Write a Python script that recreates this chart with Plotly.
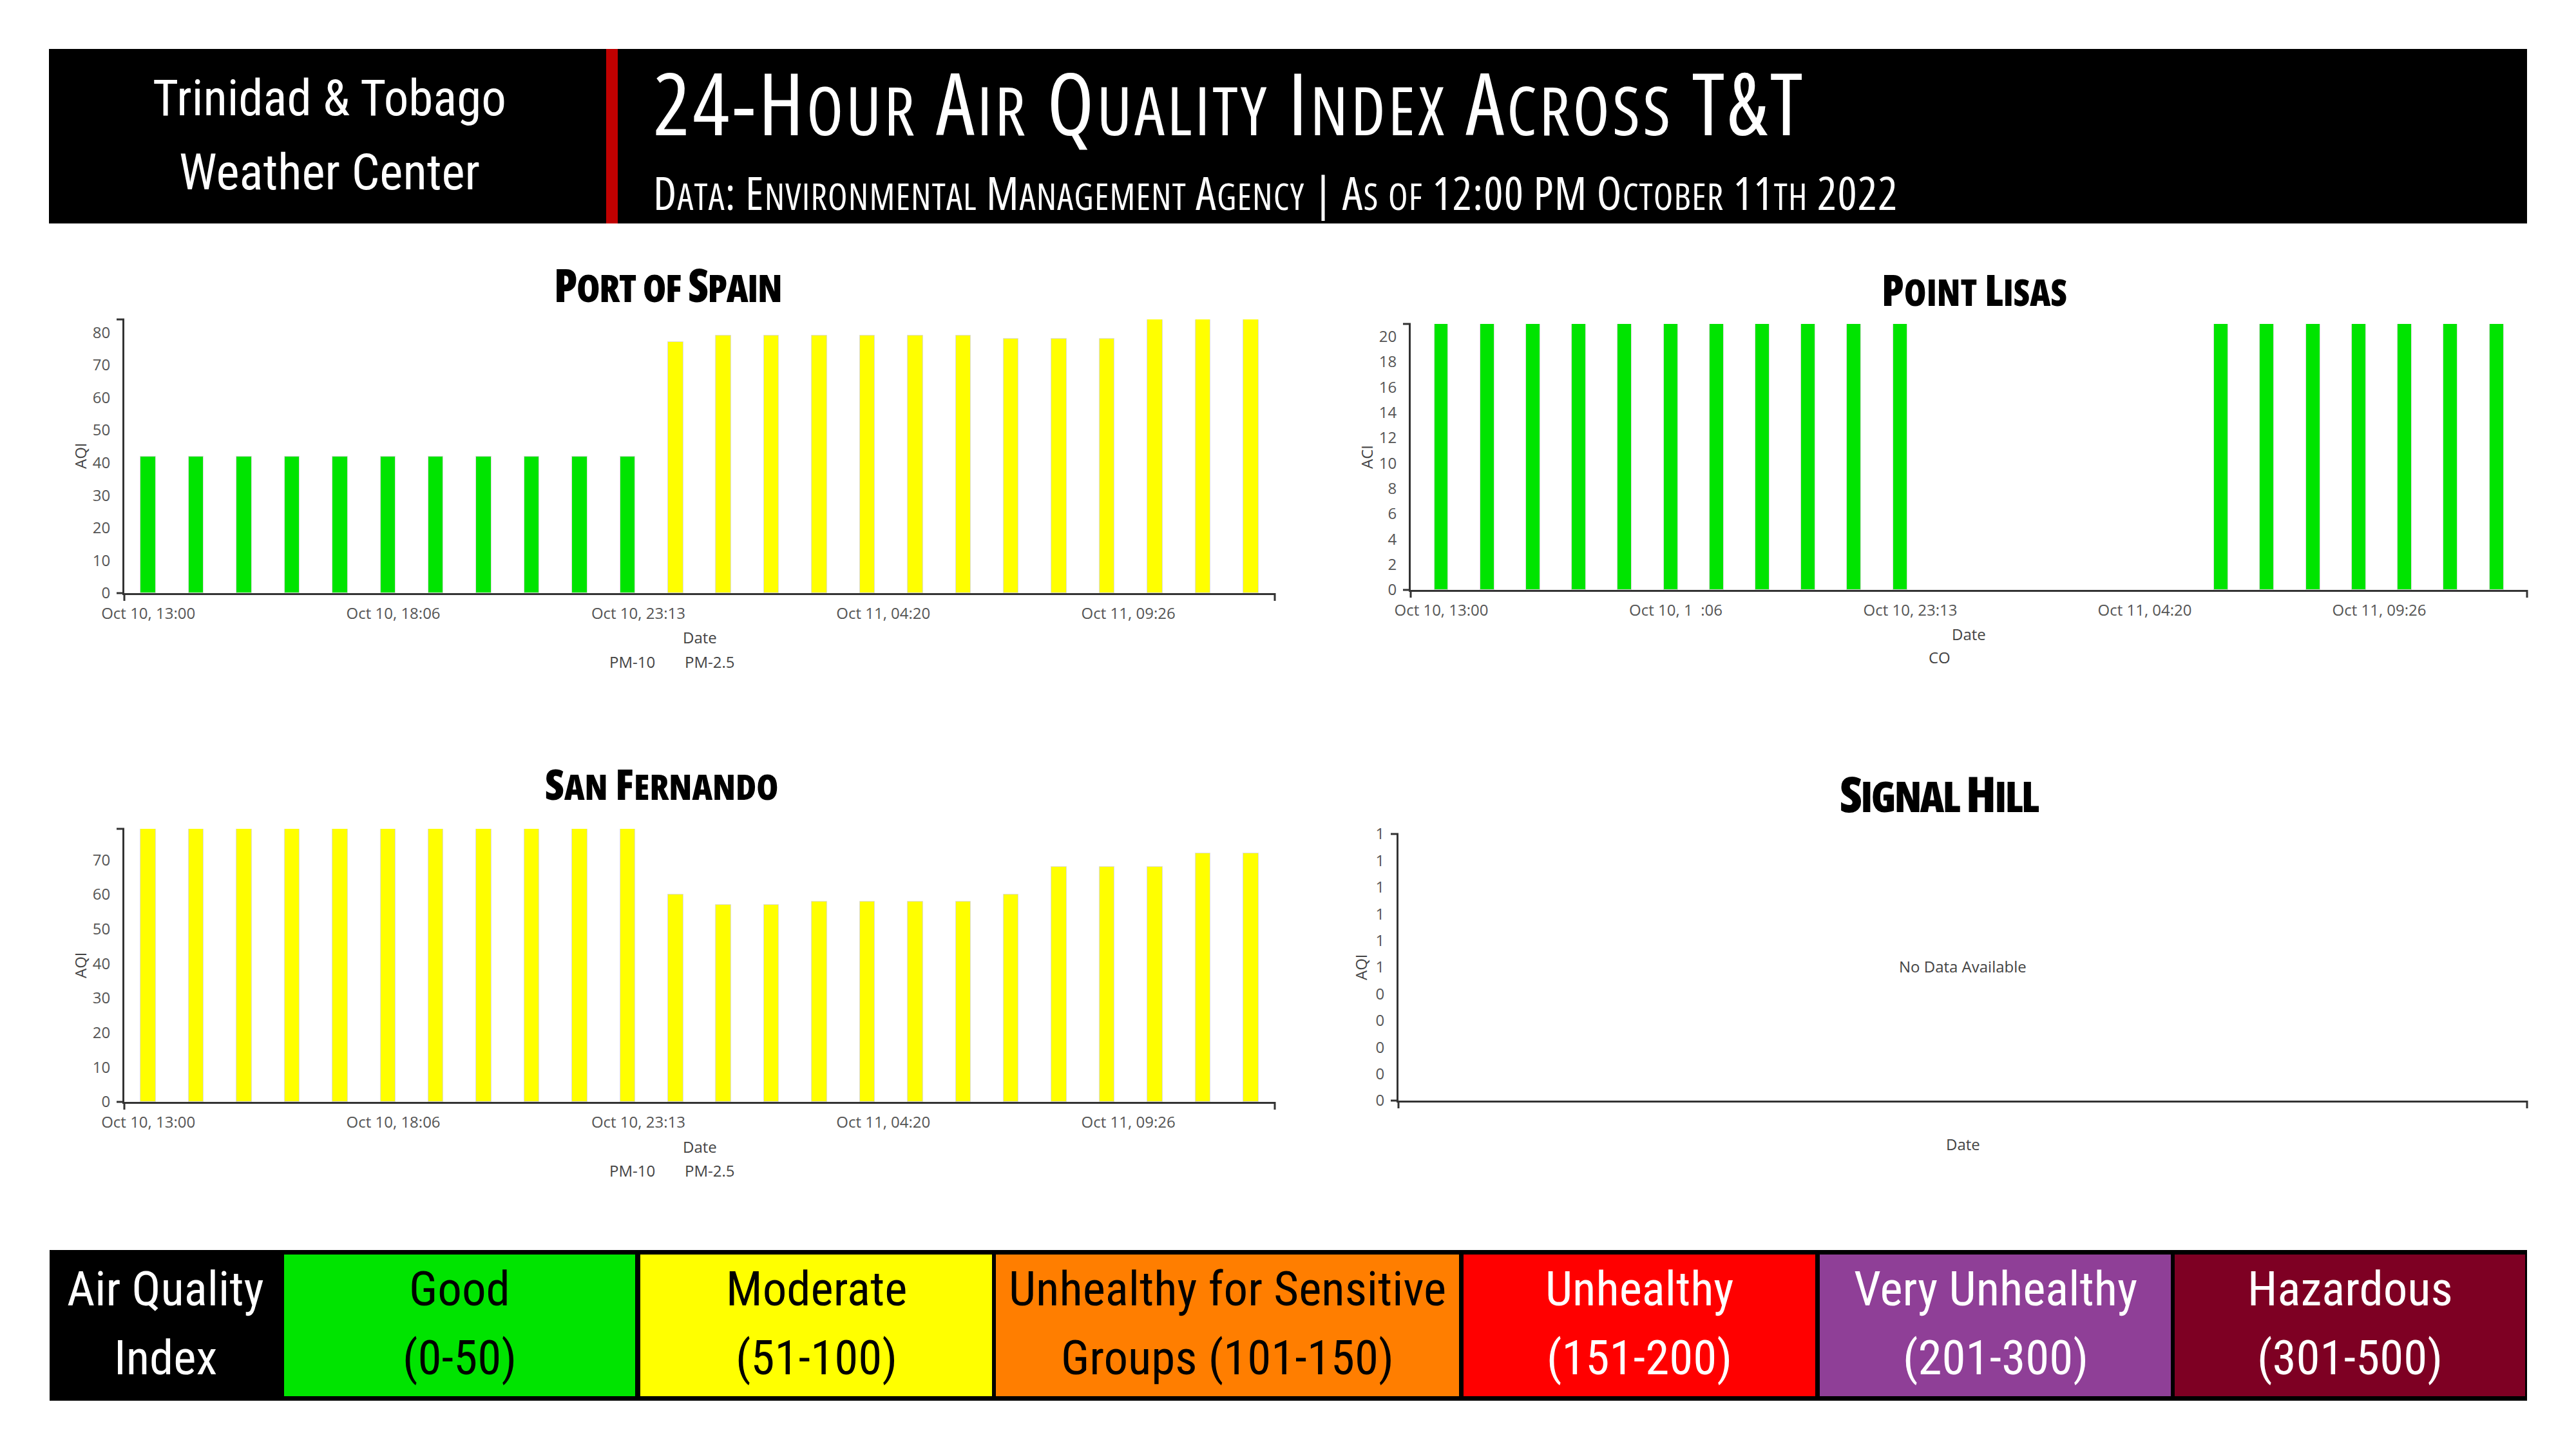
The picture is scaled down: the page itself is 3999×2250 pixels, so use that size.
import plotly.graph_objects as go

W, H = 3999, 2250


def px(x):
    return x / W


def py(y):
    return 1 - y / H


# ------------------------------------------------------------------ data
hours = [
    "2022-10-10 13:00", "2022-10-10 14:00", "2022-10-10 15:00", "2022-10-10 16:00",
    "2022-10-10 17:00", "2022-10-10 18:00", "2022-10-10 19:00", "2022-10-10 20:00",
    "2022-10-10 21:00", "2022-10-10 22:00", "2022-10-10 23:00", "2022-10-11 00:00",
    "2022-10-11 01:00", "2022-10-11 02:00", "2022-10-11 03:00", "2022-10-11 04:00",
    "2022-10-11 05:00", "2022-10-11 06:00", "2022-10-11 07:00", "2022-10-11 08:00",
    "2022-10-11 09:00", "2022-10-11 10:00", "2022-10-11 11:00", "2022-10-11 12:00",
]
port_of_spain_aqi = [42, 42, 42, 42, 42, 42, 42, 42, 42, 42, 42,
                     77, 79, 79, 79, 79, 79, 79, 78, 78, 78, 84, 84, 84]
san_fernando_aqi = [79, 79, 79, 79, 79, 79, 79, 79, 79, 79, 79,
                    60, 57, 57, 58, 58, 58, 58, 60, 68, 68, 68, 72, 72]
point_lisas_hours = [
    "2022-10-10 13:00", "2022-10-10 14:00", "2022-10-10 15:00", "2022-10-10 16:00",
    "2022-10-10 17:00", "2022-10-10 18:00", "2022-10-10 19:00", "2022-10-10 20:00",
    "2022-10-10 21:00", "2022-10-10 22:00", "2022-10-10 23:00",
    "2022-10-11 06:00", "2022-10-11 07:00", "2022-10-11 08:00", "2022-10-11 09:00",
    "2022-10-11 10:00", "2022-10-11 11:00", "2022-10-11 12:00",
]
point_lisas_aqi = [21, 21, 21, 21, 21, 21, 21, 21, 21, 21, 21,
                   21, 21, 21, 21, 21, 21, 21]

x_tickvals = ["2022-10-10 13:00:00", "2022-10-10 18:06:40", "2022-10-10 23:13:20",
              "2022-10-11 04:20:00", "2022-10-11 09:26:40"]
x_ticktext = ["Oct 10, 13:00", "Oct 10, 18:06", "Oct 10, 23:13",
              "Oct 11, 04:20", "Oct 11, 09:26"]
x_ticktext_lisas = ["Oct 10, 13:00", "Oct 10, 1  :06", "Oct 10, 23:13",
                    "Oct 11, 04:20", "Oct 11, 09:26"]
signal_hill_tickvals = [0, 0.1, 0.2, 0.3, 0.4, 0.5, 0.6, 0.7, 0.8, 0.9, 1.0]
signal_hill_ticktext = ["0", "0", "0", "0", "0", "1", "1", "1", "1", "1", "1"]

band_limits = [50, 100, 150, 200, 300, 500]
band_colors = ["#00E400", "#FFFF00", "#FF7E00", "#FF0000", "#8F3F97", "#7E0023"]
band_names = ["Good", "Moderate", "Unhealthy for Sensitive", "Unhealthy",
              "Very Unhealthy", "Hazardous"]
band_ranges = ["(0-50)", "(51-100)", "Groups (101-150)", "(151-200)",
               "(201-300)", "(301-500)"]
band_text_colors = ["#000000", "#000000", "#000000", "#FFFFFF", "#FFFFFF", "#FFFFFF"]


def aqi_color(v):
    for lim, c in zip(band_limits, band_colors):
        if v <= lim:
            return c
    return band_colors[-1]


# ------------------------------------------------------------------ styles
NARROW = "Roboto Condensed, Liberation Sans Narrow, sans-serif"
SANS = "Open Sans, sans-serif"
AXIS_COLOR = "#333333"
LABEL_COLOR = "#555555"

# plot areas in pixels: x0, x1, ytop, ybottom
areas = {
    1: (193, 1979, 496, 921),
    2: (2190, 3923, 503, 916),
    3: (193, 1979, 1287, 1711),
    4: (2171, 3923, 1295, 1709),
}

fig = go.Figure()

bar_line = dict(width=1, color="#dcdcdc")
fig.add_trace(go.Bar(x=hours, y=port_of_spain_aqi, width=1140000,
                     marker=dict(color=[aqi_color(v) for v in port_of_spain_aqi], line=bar_line),
                     xaxis="x", yaxis="y", showlegend=False, hoverinfo="x+y"))
fig.add_trace(go.Bar(x=point_lisas_hours, y=point_lisas_aqi, width=1110000,
                     marker=dict(color=[aqi_color(v) for v in point_lisas_aqi], line=bar_line),
                     xaxis="x2", yaxis="y2", showlegend=False, hoverinfo="x+y"))
fig.add_trace(go.Bar(x=hours, y=san_fernando_aqi, width=1140000,
                     marker=dict(color=[aqi_color(v) for v in san_fernando_aqi], line=bar_line),
                     xaxis="x3", yaxis="y3", showlegend=False, hoverinfo="x+y"))
fig.add_trace(go.Bar(x=[], y=[], xaxis="x4", yaxis="y4", showlegend=False))

tickfont = dict(family=SANS, size=24, color=LABEL_COLOR)


def xaxis(i, rng, ticktext, show=True):
    x0, x1, yt, yb = areas[i]
    d = dict(domain=[px(x0), px(x1)], anchor="y" if i == 1 else "y%d" % i,
             showline=True, linecolor=AXIS_COLOR, linewidth=3, showgrid=False,
             zeroline=False, ticks="", tickfont=tickfont, fixedrange=True,
             ticklabelstandoff=8, automargin=False)
    if show:
        d.update(type="date", range=rng, tickmode="array", tickvals=x_tickvals,
                 ticktext=ticktext)
    else:
        d.update(range=[0, 1], showticklabels=False)
    return d


def yaxis(i, rng, **kw):
    x0, x1, yt, yb = areas[i]
    d = dict(domain=[py(yb), py(yt)], anchor="x" if i == 1 else "x%d" % i,
             showline=True, linecolor=AXIS_COLOR, linewidth=3, showgrid=False,
             zeroline=False, ticks="", tickfont=tickfont, fixedrange=True,
             range=rng, ticklabelstandoff=14, automargin=False)
    d.update(kw)
    return d


full_range = ["2022-10-10 12:30", "2022-10-11 12:30"]
lisas_range = ["2022-10-10 12:20", "2022-10-11 12:40"]

fig.update_layout(
    xaxis=xaxis(1, full_range, x_ticktext),
    yaxis=yaxis(1, [0, 84], tickmode="linear", tick0=0, dtick=10),
    xaxis2=xaxis(2, lisas_range, x_ticktext_lisas),
    yaxis2=yaxis(2, [0, 21], tickmode="linear", tick0=0, dtick=2),
    xaxis3=xaxis(3, full_range, x_ticktext),
    yaxis3=yaxis(3, [0, 79], tickmode="linear", tick0=0, dtick=10),
    xaxis4=xaxis(4, None, None, show=False),
    yaxis4=yaxis(4, [0, 1], tickmode="array", tickvals=signal_hill_tickvals,
                 ticktext=signal_hill_ticktext),
)

shapes = []
# header
shapes.append(dict(type="rect", xref="paper", yref="paper", x0=px(76), x1=px(3923),
                   y0=py(347), y1=py(76), fillcolor="#000000", line=dict(width=0), layer="below"))
shapes.append(dict(type="rect", xref="paper", yref="paper", x0=px(941), x1=px(959),
                   y0=py(347), y1=py(76), fillcolor="#C00000", line=dict(width=0), layer="below"))
# legend bar
shapes.append(dict(type="rect", xref="paper", yref="paper", x0=px(77), x1=px(3923),
                   y0=py(2175), y1=py(1941), fillcolor="#000000", line=dict(width=0), layer="below"))
cells = [(441, 986), (994, 1540), (1546, 2265), (2272, 2818), (2825, 3370), (3376, 3920)]
for (cx0, cx1), col in zip(cells, band_colors):
    shapes.append(dict(type="rect", xref="paper", yref="paper", x0=px(cx0), x1=px(cx1),
                       y0=py(2168), y1=py(1948), fillcolor=col, line=dict(width=0), layer="below"))
# outer axis ticks
for i, (x0, x1, yt, yb) in areas.items():
    lw = dict(color=AXIS_COLOR, width=3)
    for (a, b, c, d) in [(x0 - 12, yt, x0, yt), (x0 - 12, yb, x0, yb),
                         (x0, yb, x0, yb + 12), (x1, yb, x1, yb + 12)]:
        shapes.append(dict(type="line", xref="paper", yref="paper", x0=px(a), y0=py(b),
                           x1=px(c), y1=py(d), line=lw))
fig.update_layout(shapes=shapes)

ann = []


def esc(s):
    return s.replace("&", "&amp;").replace("<", "&lt;")


def small_caps(s, small, stretch="75%", spacing=0):
    """Build real small caps: lowercase letters become smaller capitals."""
    runs = []
    for ch in s:
        is_small = ch.islower()
        if runs and runs[-1][0] == is_small:
            runs[-1][1] += ch
        else:
            runs.append([is_small, ch])
    out = []
    for is_small, seg in runs:
        style = "font-stretch:%s;letter-spacing:%spx" % (stretch, spacing)
        if is_small:
            style += ";font-size:%spx" % small
            seg = seg.upper()
        out.append('<span style="%s">%s</span>' % (style, esc(seg)))
    return "".join(out)


def text(x, y, s, size, color="#000000", family=NARROW, xanchor="center", weight="normal",
         angle=0):
    ann.append(dict(x=px(x), y=py(y), xref="paper", yref="paper", text=s, showarrow=False,
                    xanchor=xanchor, yanchor="middle", textangle=angle,
                    font=dict(family=family, size=size, color=color, weight=weight)))


# header texts
text(511, 153, "Trinidad &amp; Tobago", 77, "#FFFFFF")
text(511, 268, "Weather Center", 77, "#FFFFFF")
text(1012, 158, small_caps("24-Hour Air Quality Index Across T&T", 105, spacing=4.2), 134,
     "#FFFFFF", family=SANS, xanchor="left")
text(1012, 298, small_caps("Data: Environmental Management Agency | As of 12:00 PM October 11th 2022",
                           56, spacing=1.2),
     71, "#FFFFFF", family=SANS, xanchor="left")

# chart titles
text(1036, 442, small_caps("Port of Spain", 59, spacing=-1.4), 70, family=SANS, weight=800)
text(3065, 449, small_caps("Point Lisas", 56), 67, family=SANS, weight=800)
text(1027, 1216, small_caps("San Fernando", 55), 66, family=SANS, weight=800)
text(3010, 1231, small_caps("Signal Hill", 65, spacing=-2.5), 77, family=SANS, weight=800)

# axis titles and legends
text(124, 708, "AQI", 24, "#444444", SANS, angle=-90)
text(2121, 710, "ACI", 24, "#444444", SANS, angle=-90)
text(124, 1499, "AQI", 24, "#444444", SANS, angle=-90)
text(2112, 1502, "AQI", 24, "#444444", SANS, angle=-90)
text(1086, 990, "Date", 24, "#444444", SANS)
text(3056, 984, "Date", 24, "#444444", SANS)
text(1086, 1780, "Date", 24, "#444444", SANS)
text(3047, 1776, "Date", 24, "#444444", SANS)
text(981, 1027, "PM-10", 24, "#444444", SANS)
text(1102, 1027, "PM-2.5", 24, "#444444", SANS)
text(3011, 1020, "CO", 24, "#444444", SANS)
text(981, 1817, "PM-10", 24, "#444444", SANS)
text(1102, 1817, "PM-2.5", 24, "#444444", SANS)
text(3047, 1500, "No Data Available", 24, "#444444", SANS)

# legend bar texts
text(257, 2001, "Air Quality", 75, "#FFFFFF")
text(257, 2108, "Index", 75, "#FFFFFF")
for (cx0, cx1), name, rng, tc in zip(cells, band_names, band_ranges, band_text_colors):
    cx = (cx0 + cx1) / 2
    text(cx, 2001, name, 75, tc)
    text(cx, 2108, rng, 75, tc)

fig.update_layout(annotations=ann, width=W, height=H, margin=dict(l=0, r=0, t=0, b=0),
                  paper_bgcolor="#FFFFFF", plot_bgcolor="#FFFFFF", bargap=0)

fig.write_html("out.html")
